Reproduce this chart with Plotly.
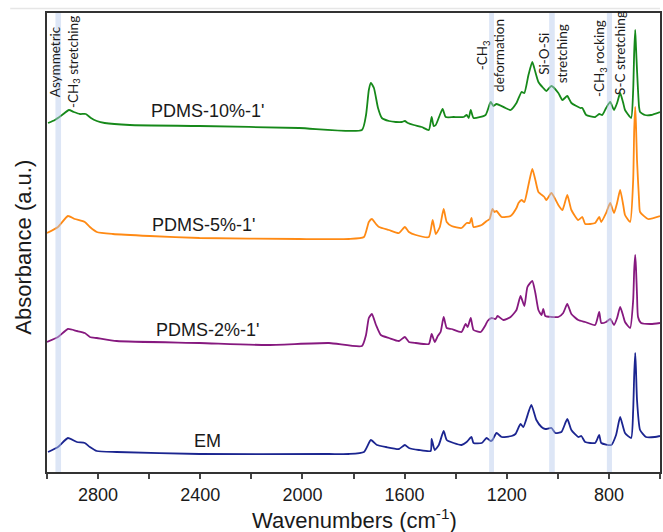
import plotly.graph_objects as go

# ---- data (wavenumber in cm-1, absorbance in a.u. with vertical offsets) ----
em_wn = [2996, 2957, 2918, 2883, 2852, 2832, 2805, 2727, 2403, 1896, 1818, 1759, 1732, 1708, 1673,
         1622, 1599, 1583, 1544, 1498, 1494, 1482, 1466, 1447, 1435, 1408, 1377, 1357, 1338, 1330,
         1298, 1279, 1263, 1256, 1240, 1220, 1181, 1166, 1146, 1135, 1104, 1084, 1064, 1049, 1025,
         1010, 986, 963, 947, 920, 908, 893, 854, 838, 830, 791, 772, 756, 737, 713, 705, 701, 697,
         694, 690, 678, 655, 620, 600]
em_abs = [0.20, 0.25, 0.34, 0.30, 0.29, 0.25, 0.21, 0.20, 0.18, 0.18, 0.18, 0.20, 0.32, 0.27, 0.25,
          0.23, 0.27, 0.24, 0.22, 0.21, 0.33, 0.22, 0.27, 0.41, 0.32, 0.29, 0.27, 0.30, 0.35, 0.29,
          0.29, 0.34, 0.31, 0.32, 0.39, 0.35, 0.36, 0.38, 0.48, 0.45, 0.67, 0.52, 0.45, 0.43, 0.44,
          0.39, 0.40, 0.53, 0.42, 0.35, 0.36, 0.30, 0.29, 0.37, 0.29, 0.27, 0.37, 0.55, 0.39, 0.34,
          0.62, 0.97, 1.19, 1.02, 0.72, 0.42, 0.35, 0.35, 0.36]

p2_wn = [3000, 2957, 2918, 2883, 2852, 2832, 2805, 2727, 2403, 2141, 1896, 1767, 1751, 1740, 1728,
         1712, 1693, 1661, 1622, 1599, 1583, 1556, 1505, 1494, 1482, 1470, 1459, 1447, 1435, 1416,
         1377, 1361, 1353, 1341, 1330, 1302, 1283, 1275, 1259, 1244, 1236, 1213, 1185, 1162, 1146,
         1131, 1119, 1100, 1088, 1076, 1064, 1057, 1049, 1025, 998, 979, 963, 947, 920, 893, 854,
         838, 830, 811, 795, 780, 768, 756, 744, 737, 717, 705, 701, 697, 694, 690, 686, 674, 635, 600]
p2_abs = [1.30, 1.35, 1.43, 1.41, 1.39, 1.35, 1.34, 1.31, 1.29, 1.27, 1.29, 1.26, 1.37, 1.54, 1.58,
          1.47, 1.37, 1.34, 1.31, 1.35, 1.30, 1.29, 1.28, 1.38, 1.30, 1.36, 1.40, 1.55, 1.44, 1.43,
          1.40, 1.48, 1.45, 1.54, 1.42, 1.40, 1.47, 1.51, 1.54, 1.53, 1.56, 1.52, 1.55, 1.62, 1.76,
          1.66, 1.85, 1.91, 1.79, 1.62, 1.57, 1.63, 1.56, 1.55, 1.55, 1.59, 1.68, 1.58, 1.52, 1.50, 1.47,
          1.60, 1.49, 1.50, 1.53, 1.47, 1.54, 1.65, 1.56, 1.50, 1.44, 1.72, 2.02, 2.17, 2.04, 1.77, 1.55,
          1.49, 1.48, 1.49]

p5_wn = [3000, 2957, 2918, 2891, 2852, 2832, 2805, 2742, 2598, 2403, 2013, 1818, 1759, 1740, 1728,
         1712, 1700, 1661, 1622, 1599, 1583, 1556, 1505, 1490, 1478, 1462, 1447, 1435, 1416, 1377,
         1357, 1345, 1338, 1330, 1298, 1279, 1267, 1256, 1248, 1240, 1220, 1185, 1162, 1154, 1142,
         1131, 1115, 1100, 1088, 1076, 1053, 1045, 1025, 998, 982, 963, 947, 920, 904, 893, 854, 838,
         830, 811, 795, 780, 768, 756, 744, 737, 717, 705, 701, 697, 694, 690, 682, 678, 647, 600]
p5_abs = [2.39, 2.45, 2.56, 2.53, 2.50, 2.45, 2.40, 2.38, 2.36, 2.34, 2.33, 2.33, 2.35, 2.50, 2.53,
          2.48, 2.45, 2.42, 2.39, 2.45, 2.40, 2.37, 2.35, 2.52, 2.38, 2.45, 2.63, 2.50, 2.46, 2.44,
          2.49, 2.49, 2.54, 2.45, 2.47, 2.51, 2.53, 2.63, 2.60, 2.61, 2.55, 2.56, 2.64, 2.69, 2.72,
          2.70, 2.87, 3.03, 2.92, 2.80, 2.75, 2.72, 2.79, 2.67, 2.62, 2.77, 2.62, 2.52, 2.55, 2.48, 2.49,
          2.55, 2.50, 2.59, 2.69, 2.59, 2.69, 2.82, 2.67, 2.57, 2.50, 2.92, 3.42, 3.65, 3.47, 3.12,
          2.72, 2.60, 2.53, 2.56]

p10_wn = [2996, 2969, 2941, 2914, 2895, 2871, 2848, 2828, 2805, 2774, 2676, 2403, 2013, 1767, 1751,
          1740, 1732, 1720, 1704, 1689, 1661, 1634, 1610, 1599, 1587, 1564, 1533, 1505, 1494, 1486,
          1478, 1462, 1451, 1439, 1408, 1369, 1357, 1349, 1341, 1330, 1283, 1263, 1252, 1240, 1205,
          1185, 1162, 1142, 1131, 1115, 1100, 1088, 1076, 1057, 1045, 1025, 998, 982, 963, 947, 912,
          904, 889, 854, 838, 826, 811, 795, 780, 768, 756, 744, 737, 713, 705, 701, 697, 694, 690,
          682, 678, 659, 635, 600]
p10_abs = [3.49, 3.52, 3.57, 3.62, 3.60, 3.58, 3.58, 3.54, 3.51, 3.49, 3.47, 3.46, 3.44, 3.42, 3.57,
           3.82, 3.89, 3.84, 3.64, 3.54, 3.51, 3.50, 3.50, 3.51, 3.49, 3.47, 3.45, 3.42, 3.55, 3.46,
           3.47, 3.57, 3.63, 3.55, 3.55, 3.55, 3.57, 3.54, 3.62, 3.54, 3.57, 3.70, 3.66, 3.68, 3.64,
           3.62, 3.69, 3.80, 3.79, 3.97, 4.10, 4.00, 3.90, 3.84, 3.81, 3.86, 3.79, 3.72, 3.76, 3.69, 3.64,
           3.64, 3.57, 3.55, 3.58, 3.57, 3.64, 3.70, 3.62, 3.69, 3.79, 3.69, 3.62, 3.54, 3.82, 4.20,
           4.42, 4.25, 4.02, 3.65, 3.60, 3.57, 3.57, 3.60]

series_names = ["EM", "PDMS-2%-1'", "PDMS-5%-1'", "PDMS-10%-1'"]
series_colors = ["#1b2590", "#86197f", "#ff8a14", "#16891a"]
label_wn = [2372, 2372, 2388, 2372]
label_y = [0.31, 1.42, 2.47, 3.61]

band_ranges = [(2945, 2967), (1250, 1269), (1012, 1034), (788, 808)]
band_labels = ["Asymmetric<br>-CH<sub>3</sub> stretching", "-CH<sub>3</sub><br>deformation",
               "Si-O-Si<br>stretching", "-CH<sub>3</sub> rocking", "S-C stretching"]
band_label_wn = [2933, 1262, 1018, 835, 757]
band_label_y = [4.10, 4.17, 4.18, 4.14, 4.19]

x_major_ticks = [2800, 2400, 2000, 1600, 1200, 800]
x_minor_ticks = [3000, 2600, 2200, 1800, 1400, 1000, 600]

fig = go.Figure()
xs = [em_wn, p2_wn, p5_wn, p10_wn]
ys = [em_abs, p2_abs, p5_abs, p10_abs]
for x, y, name, col in zip(xs, ys, series_names, series_colors):
    fig.add_trace(go.Scatter(x=x, y=y, mode="lines", name=name,
                             line=dict(color=col, width=1.8, shape="spline", smoothing=0.5),
                             showlegend=False))

for (a, b) in band_ranges:
    fig.add_shape(type="rect", xref="x", yref="paper", x0=a, x1=b, y0=0, y1=1,
                  fillcolor="rgb(180,200,235)", opacity=0.45, line=dict(width=0), layer="above")

for name, wx, wy in zip(series_names, label_wn, label_y):
    fig.add_annotation(x=wx, y=wy, xref="x", yref="y", text=name, showarrow=False,
                       font=dict(family="Liberation Sans, Arial", size=18, color="#1a1a1a"),
                       xanchor="center", yanchor="middle")

for txt, wx, wy in zip(band_labels, band_label_wn, band_label_y):
    fig.add_annotation(x=wx, y=wy, xref="x", yref="y", text=txt, showarrow=False, textangle=-90,
                       align="center", font=dict(family="Lato, Liberation Sans", size=13.5, color="#1a1a1a"),
                       xanchor="center", yanchor="middle")

fig.add_annotation(x=0.501, y=-0.102, xref="paper", yref="paper", text="Wavenumbers (cm<sup>-1</sup>)",
                   showarrow=False, font=dict(family="Liberation Sans, Arial", size=22, color="#1a1a1a"),
                   xanchor="center", yanchor="middle")
fig.add_annotation(x=-0.039, y=0.489, xref="paper", yref="paper", text="Absorbance (a.u.)",
                   showarrow=False, textangle=-90,
                   font=dict(family="Liberation Sans, Arial", size=22, color="#1a1a1a"),
                   xanchor="center", yanchor="middle")

# faint page line above the frame
fig.add_shape(type="line", xref="paper", yref="paper", x0=-0.06, x1=1.0, y0=1.0098, y1=1.0098,
              line=dict(color="#e6e6e6", width=1.5))

fig.update_layout(
    width=663, height=532,
    margin=dict(l=47, r=1, t=13, b=60),
    paper_bgcolor="white", plot_bgcolor="white",
    xaxis=dict(range=[3000, 600], tickmode="array", tickvals=x_major_ticks,
               ticks="outside", ticklen=5, tickwidth=1.5, tickcolor="#444",
               minor=dict(tickmode="array", tickvals=x_minor_ticks, ticks="outside",
                          ticklen=5, tickwidth=1.5, tickcolor="#444", showgrid=False),
               showline=True, linecolor="#333", linewidth=2, mirror=True,
               showgrid=False, zeroline=False,
               tickfont=dict(family="Liberation Sans, Arial", size=18, color="#1a1a1a")),
    yaxis=dict(range=[0, 4.59], showticklabels=False, ticks="",
               showline=True, linecolor="#333", linewidth=2, mirror=True,
               showgrid=False, zeroline=False),
)

fig.write_html("out.html", config={"displayModeBar": False},
               post_script="document.body.style.margin='0';document.body.style.overflow='hidden';")
